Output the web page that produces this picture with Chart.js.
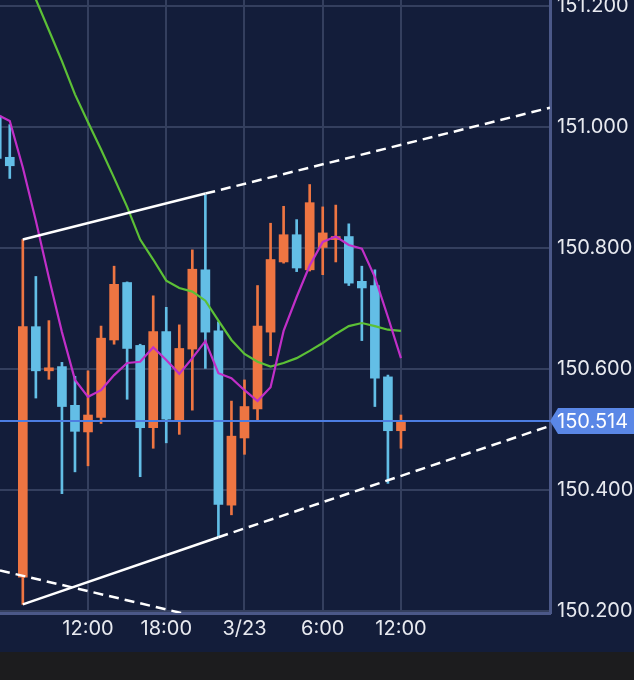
<!DOCTYPE html>
<html>
<head>
<meta charset="utf-8">
<script src="https://cdn.jsdelivr.net/npm/chart.js@4.4.1/dist/chart.umd.min.js"></script>
<style>
  html, body { margin: 0; padding: 0; background: #1c1c1e; }
  #wrap { width: 634px; height: 652px; background: #131d3a; position: relative; }
</style>
</head>
<body>
<div id="wrap"><canvas id="priceChart"></canvas></div>
<script>
// hourly candles, hour 0 = 3/22 0:00
const hours  = [5, 6, 7, 8, 9, 10, 11, 12, 13, 14, 15, 16, 17, 18, 19, 20, 21, 22, 23, 24, 25, 26, 27, 28, 29, 30, 31, 32, 33, 34, 35, 36];
const opens  = [151.018, 150.950, 150.256, 150.670, 150.597, 150.604, 150.540, 150.496, 150.520, 150.648, 150.743, 150.639, 150.503, 150.662, 150.515, 150.633, 150.764, 150.663, 150.375, 150.486, 150.534, 150.661, 150.777, 150.822, 150.764, 150.801, 150.814, 150.819, 150.745, 150.738, 150.587, 150.498];
const highs  = [151.040, 151.004, 150.814, 150.753, 150.680, 150.611, 150.588, 150.597, 150.671, 150.770, 150.744, 150.641, 150.721, 150.702, 150.673, 150.797, 150.888, 150.678, 150.547, 150.582, 150.738, 150.841, 150.869, 150.847, 150.905, 150.868, 150.871, 150.840, 150.770, 150.764, 150.590, 150.524];
const lows   = [150.940, 150.915, 150.211, 150.552, 150.583, 150.394, 150.430, 150.440, 150.510, 150.641, 150.550, 150.422, 150.469, 150.478, 150.492, 150.532, 150.601, 150.322, 150.359, 150.459, 150.514, 150.622, 150.775, 150.761, 150.762, 150.756, 150.777, 150.738, 150.647, 150.538, 150.411, 150.469];
const closes = [150.948, 150.936, 150.670, 150.597, 150.602, 150.538, 150.497, 150.524, 150.651, 150.740, 150.634, 150.503, 150.662, 150.517, 150.634, 150.765, 150.661, 150.376, 150.489, 150.538, 150.671, 150.781, 150.822, 150.767, 150.875, 150.825, 150.819, 150.742, 150.734, 150.585, 150.498, 150.514];

// moving averages
const maShort = [151.021, 151.010, 150.933, 150.845, 150.751, 150.661, 150.582, 150.554, 150.565, 150.590, 150.610, 150.612, 150.636, 150.615, 150.592, 150.618, 150.646, 150.593, 150.585, 150.565, 150.547, 150.570, 150.663, 150.719, 150.771, 150.810, 150.819, 150.805, 150.799, 150.752, 150.686, 150.618];
const maLong  = [151.366, 151.314, 151.263, 151.211, 151.160, 151.109, 151.054, 151.008, 150.963, 150.916, 150.868, 150.814, 150.781, 150.746, 150.734, 150.728, 150.713, 150.680, 150.648, 150.625, 150.612, 150.604, 150.610, 150.618, 150.630, 150.643, 150.658, 150.671, 150.676, 150.671, 150.665, 150.663];

// trend lines (hour, price)
const upperHours = [7, 21, 47.43];
const upperPrices = [150.814, 150.890, 151.032];
const lowerHours = [7, 22, 47.43];
const lowerPrices = [150.211, 150.322, 150.506];
const oldLineHours = [5.25, 19.3];
const oldLinePrices = [150.267, 150.196];

const lastPrice = 150.514;

// axes
const tickHours = [12, 18, 24, 30, 36];
const tickLabels = ['12:00', '18:00', '3/23', '6:00', '12:00'];
const priceTicks = [150.2, 150.4, 150.6, 150.8, 151.0, 151.2];

const UP = '#ee7542';
const DOWN = '#63bee6';

let candleColors = opens.map((o, i) => closes[i] >= o ? UP : DOWN);
let wickData = hours.map((h, i) => ({ x: h, y: [lows[i], highs[i]] }));
let bodyData = hours.map((h, i) => ({ x: h, y: [Math.min(opens[i], closes[i]), Math.max(opens[i], closes[i])] }));

function pts(xs, ys) {
  return xs.map((x, i) => ({ x: x, y: ys[i] }));
}

function lineSet(data, color, width, dash, order) {
  return {
    type: 'line',
    data: data,
    borderColor: color,
    borderWidth: width,
    borderDash: dash,
    pointRadius: 0,
    tension: 0,
    order: order
  };
}

// blue line at the last price plus the tag on the axis
const priceLinePlugin = {
  id: 'priceLine',
  afterDraw(chart) {
    const ctx = chart.ctx;
    const area = chart.chartArea;
    const y = chart.scales.y.getPixelForValue(lastPrice);
    ctx.save();
    ctx.strokeStyle = '#4c7de2';
    ctx.lineWidth = 2;
    ctx.beginPath();
    ctx.moveTo(area.left, y);
    ctx.lineTo(area.right, y);
    ctx.stroke();

    ctx.fillStyle = '#5a87e6';
    ctx.beginPath();
    ctx.moveTo(area.right, y);
    ctx.lineTo(area.right + 8, y - 13);
    ctx.lineTo(chart.width, y - 13);
    ctx.lineTo(chart.width, y + 13);
    ctx.lineTo(area.right + 8, y + 13);
    ctx.closePath();
    ctx.fill();

    ctx.fillStyle = '#ffffff';
    ctx.font = '20px Inter';
    ctx.textBaseline = 'middle';
    ctx.textAlign = 'left';
    ctx.fillText(lastPrice.toFixed(3), area.right + 7, y + 1);
    ctx.restore();
  }
};

Chart.defaults.font.family = 'Inter';
Chart.defaults.font.size = 20;

const ctx = document.getElementById('priceChart').getContext('2d');
new Chart(ctx, {
  type: 'bar',
  data: {
    datasets: [
      lineSet(pts(oldLineHours, oldLinePrices), '#ffffff', 2.5, [10, 6], 1),
      lineSet(pts(upperHours.slice(0, 2), upperPrices.slice(0, 2)), '#ffffff', 2.5, [], 1),
      lineSet(pts(upperHours.slice(1), upperPrices.slice(1)), '#ffffff', 2.5, [10, 6], 1),
      lineSet(pts(lowerHours.slice(0, 2), lowerPrices.slice(0, 2)), '#ffffff', 2.5, [], 1),
      lineSet(pts(lowerHours.slice(1), lowerPrices.slice(1)), '#ffffff', 2.5, [10, 6], 1),
      lineSet(pts(hours, maShort), '#c12fc8', 2.2, [], 2),
      lineSet(pts(hours, maLong), '#5cc036', 2.2, [], 3),
      {
        data: bodyData,
        backgroundColor: candleColors,
        barThickness: 9,
        minBarLength: 2,
        grouped: false,
        order: 4
      },
      {
        data: wickData,
        backgroundColor: candleColors,
        barThickness: 2,
        grouped: false,
        order: 5
      }
    ]
  },
  options: {
    responsive: true,
    maintainAspectRatio: false,
    animation: false,
    layout: { padding: 0 },
    plugins: {
      legend: { display: false },
      tooltip: { enabled: false }
    },
    scales: {
      x: {
        type: 'linear',
        min: 5.25,
        max: 47.43,
        offset: false,
        grid: { color: '#343f5e', lineWidth: 2, drawTicks: false, offset: false },
        border: { display: true, color: '#4b5888', width: 3 },
        ticks: {
          color: '#e8eaf0',
          padding: 4,
          maxRotation: 0,
          callback: (v) => tickLabels[tickHours.indexOf(v)]
        },
        afterBuildTicks: (scale) => {
          scale.ticks = tickHours.map((v) => ({ value: v }));
        },
        afterFit: (scale) => {
          scale.height = 39;
          scale.paddingLeft = 0;
          scale.paddingRight = 0;
        }
      },
      y: {
        position: 'right',
        min: 150.1967,
        max: 151.21,
        grid: { color: '#343f5e', lineWidth: 2, drawTicks: false },
        border: { display: true, color: '#4b5888', width: 3 },
        ticks: {
          color: '#e8eaf0',
          padding: 7,
          callback: (v) => v.toFixed(3)
        },
        afterBuildTicks: (scale) => {
          scale.ticks = priceTicks.map((v) => ({ value: v }));
        },
        afterFit: (scale) => {
          scale.width = 84;
          scale.paddingTop = 0;
          scale.paddingBottom = 0;
        }
      }
    }
  },
  plugins: [priceLinePlugin]
});
</script>
</body>
</html>
